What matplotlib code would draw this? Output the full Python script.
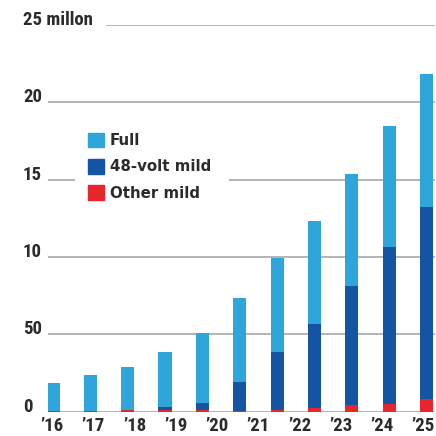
import numpy as np
import matplotlib
matplotlib.use("Agg")
import matplotlib.pyplot as plt
from matplotlib.patches import Patch
from matplotlib import font_manager

# Sales of hybrid vehicles, millions of units per year
years = [2015, 2016, 2017, 2018, 2019, 2020, 2021, 2022, 2023, 2024, 2025]
other_mild = [0.03, 0.04, 0.08, 0.12, 0.10, 0.06, 0.08, 0.20, 0.42, 0.50, 0.79]
volt48_mild = [0.00, 0.00, 0.00, 0.15, 0.47, 1.83, 3.79, 5.47, 7.71, 10.13, 12.47]
full_hybrid = [1.80, 2.32, 2.82, 3.60, 4.53, 5.44, 6.05, 6.67, 7.23, 7.82, 8.60]

year_labels = ["\u201916", "\u201917", "\u201918", "\u201919", "\u201920",
               "\u201921", "\u201922", "\u201923", "\u201924", "\u201925"]
y_ticks = [0, 5, 10, 15, 20, 25]
y_labels = ["0", "50", "10", "15", "20", "25 millon"]

C_FULL = "#2ea6dc"
C_48V = "#1454a2"
C_OTHER = "#e5262b"
C_GRID = "#b4b4b4"
C_TEXT = "#2b2b2b"

# pick a narrow face for the axis numbers if one is installed
installed = {f.name for f in font_manager.fontManager.ttflist}
narrow_candidates = ["Roboto Condensed", "Liberation Sans Narrow",
                     "DejaVu Sans Condensed", "Open Sans Condensed",
                     "Noto Sans Condensed"]
narrow = next((n for n in narrow_candidates if n in installed), None)
if narrow is None:
    narrow_props = dict(family=["DejaVu Sans"], stretch="condensed")
else:
    narrow_props = dict(family=[narrow, "DejaVu Sans"])


def style_tick_label(lab, size):
    lab.set_fontweight("bold")
    lab.set_fontsize(size)
    lab.set_color(C_TEXT)
    lab.set_fontfamily(narrow_props["family"])
    if "stretch" in narrow_props:
        lab.set_fontstretch(narrow_props["stretch"])


fig = plt.figure(figsize=(4.36, 4.36), dpi=100)
ax = fig.add_axes([48 / 436, 1 - 411.5 / 436, 387 / 436, (411.5 - 25) / 436])

x = np.arange(len(years))
other = np.array(other_mild)
v48 = np.array(volt48_mild)
full = np.array(full_hybrid)

w = 0.35
ax.bar(x, other, w, color=C_OTHER, zorder=3, linewidth=0)
ax.bar(x, v48, w, bottom=other, color=C_48V, zorder=3, linewidth=0)
ax.bar(x, full, w, bottom=other + v48, color=C_FULL, zorder=3, linewidth=0)

ax.set_xlim(-0.134, 10.23)
ax.set_ylim(0, 25)

# horizontal rules, shortened where labels and the key sit
for t in y_ticks:
    if t == 25:
        ax.axhline(t, xmin=(107 - 48) / 387, xmax=1, color=C_GRID, lw=1.4, zorder=1)
    elif t == 15:
        ax.axhline(t, xmin=0, xmax=(74 - 48) / 387, color=C_GRID, lw=1.4, zorder=1)
        ax.axhline(t, xmin=(230 - 48) / 387, xmax=1, color=C_GRID, lw=1.4, zorder=1)
    else:
        ax.axhline(t, xmin=0, xmax=1, color=C_GRID, lw=1.4, zorder=1)

for s in ax.spines.values():
    s.set_visible(False)

ax.set_yticks(y_ticks)
ax.set_yticklabels(y_labels)
ax.tick_params(axis="y", length=0, pad=25 * 0.72)
for lab in ax.get_yticklabels():
    lab.set_horizontalalignment("left")
    lab.set_verticalalignment("baseline")
    style_tick_label(lab, 13.5)

# ten year labels spread evenly across the eleven columns
ax.set_xticks(np.linspace(-0.02, 9.92, len(year_labels)))
ax.set_xticklabels(year_labels)
ax.tick_params(axis="x", length=0, pad=4)
for lab in ax.get_xticklabels():
    style_tick_label(lab, 13.5)

handles = [Patch(color=C_FULL, label="Full"),
           Patch(color=C_48V, label="48-volt mild"),
           Patch(color=C_OTHER, label="Other mild")]
leg = fig.legend(handles=handles, loc="upper left",
                 bbox_to_anchor=(88 / 436, 1 - 133 / 436),
                 frameon=False, borderpad=0, borderaxespad=0,
                 handlelength=1.05, handleheight=1.1, handletextpad=0.4,
                 labelspacing=0.72,
                 prop={"family": "DejaVu Sans", "weight": "bold", "size": 10.8})
for t in leg.get_texts():
    t.set_color(C_TEXT)

fig.savefig("out.png", dpi=100, facecolor="white")
